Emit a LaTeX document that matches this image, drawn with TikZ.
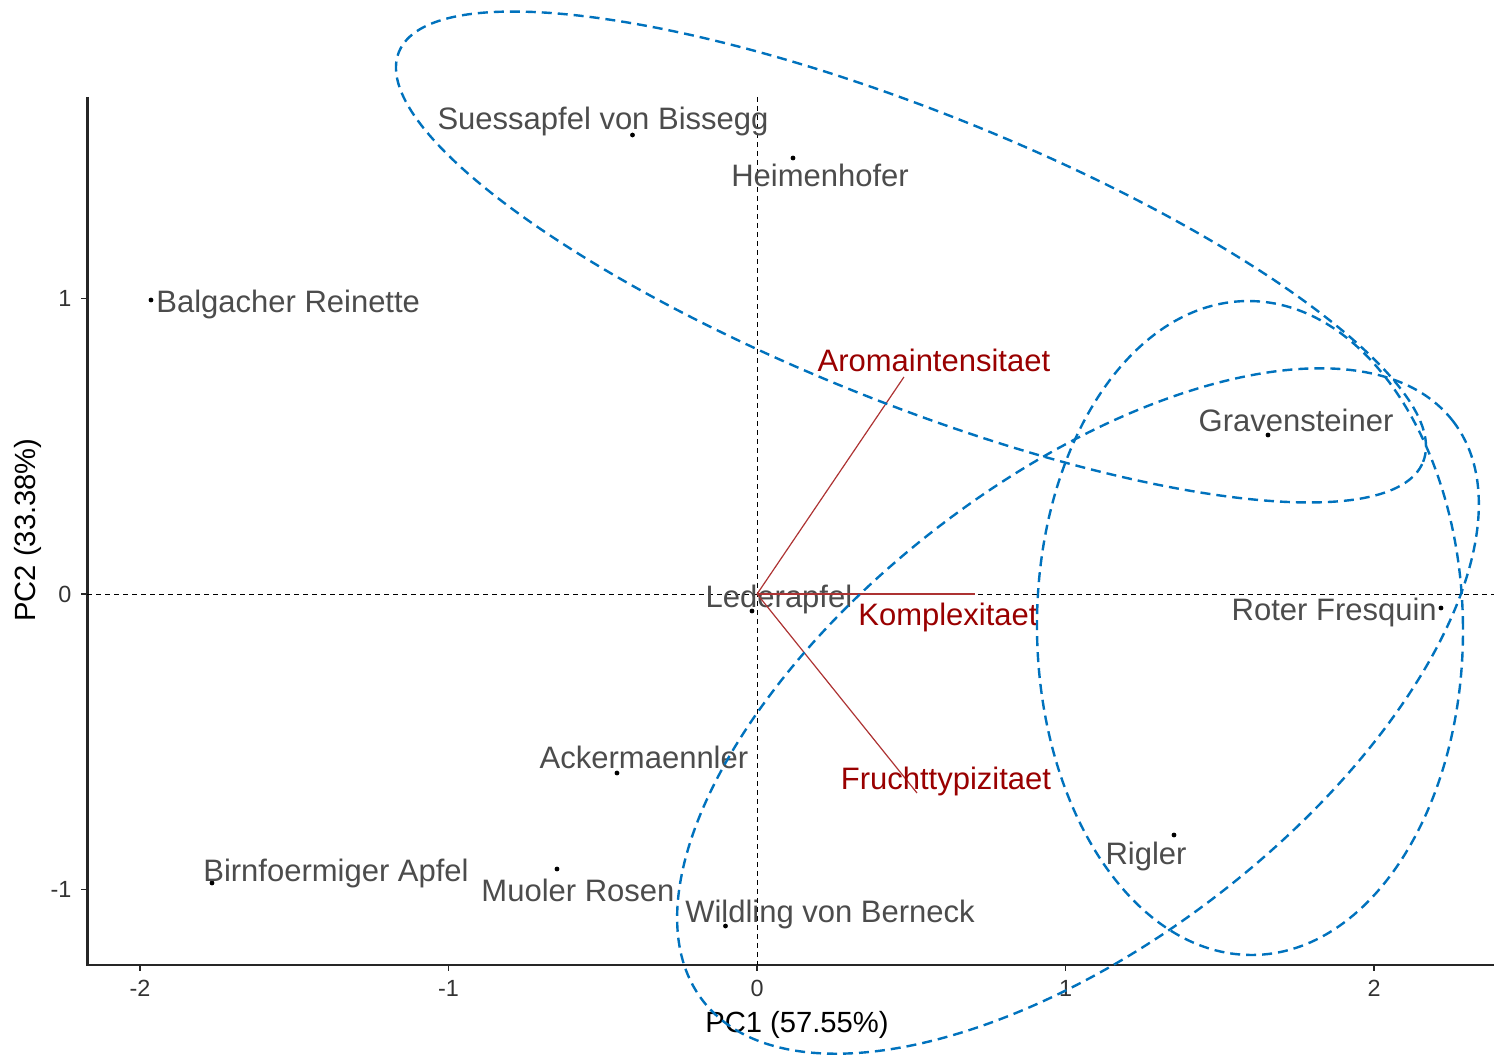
\documentclass[tikz,border=0pt]{standalone}
\usepackage{fontspec}
\setmainfont{Liberation Sans}
\definecolor{ellblue}{HTML}{0072BD}
\definecolor{varred}{HTML}{990000}

\begin{document}
\begin{tikzpicture}[x=154.275pt,y=147.675pt,
  sample node/.style={circle,fill=black,inner sep=0pt,minimum size=2.4pt},
  sample label/.style={text=black!70,inner sep=0pt,font=\fontsize{15.5}{18}\selectfont},
  var label/.style={text=varred,inner sep=0pt,font=\fontsize{15.5}{18}\selectfont},
  var line/.style={varred!80,line width=0.6pt},
  axis line/.style={black!85,line width=1.2pt},
  tick label/.style={black!80,inner sep=0pt,font=\fontsize{11.7}{14}\selectfont},
  axis title/.style={black,inner sep=0pt,font=\fontsize{14.6}{17}\selectfont},
  zero line/.style={black,line width=0.45pt,dash pattern=on 2.5pt off 2pt},
  group ellipse/.style={ellblue,line width=1.2pt,dash pattern=on 5pt off 3pt}]
  \useasboundingbox (-2.4537,-1.5643) rectangle (2.3883,2.0112);

  % axes
  \coordinate (ytop) at (-2.1702,1.6828);
  \coordinate (corner) at (-2.1702,-1.2561);
  \coordinate (xend) at (2.3883,-1.2561);
  \draw[axis line] (ytop) -- (corner) -- (xend);
  \foreach \x in {-2,-1,0,1,2}
    \draw[black!85,line width=0.7pt] (\x,-1.2561) -- ++(0,-3.2pt) node[below=4pt,tick label] {\x};
  \foreach \y in {-1,0,1}
    \draw[black!85,line width=0.7pt] (-2.1702,\y) -- ++(-3.2pt,0) node[left=4.5pt,tick label] {\y};
  \node[axis title] (xtitle) at (0.1293,-1.4580) {PC1 (57.55\%)};
  \node[axis title,rotate=90] (ytitle) at (-2.3628,0.2167) {PC2 (33.38\%)};

  % zero lines
  \coordinate (hl) at (-2.1702,0);
  \coordinate (hr) at (2.3883,0);
  \coordinate (vt) at (0,1.6828);
  \coordinate (vb) at (0,-1.2561);
  \draw[zero line] (hl) -- (hr);
  \draw[zero line] (vt) -- (vb);

  % cultivars
  \node[sample node] (1) at (-0.4038,1.5541) {};
  \node[sample node] (2) at (0.1164,1.4762) {};
  \node[sample node] (3) at (-1.9644,0.9954) {};
  \node[sample node] (4) at (1.6558,0.5383) {};
  \node[sample node] (5) at (2.2165,-0.0474) {};
  \node[sample node] (6) at (-0.0165,-0.0576) {};
  \node[sample node] (7) at (-0.4541,-0.6061) {};
  \node[sample node] (8) at (1.3512,-0.8160) {};
  \node[sample node] (9) at (-1.7666,-0.9785) {};
  \node[sample node] (10) at (-0.6485,-0.9311) {};
  \node[sample node] (11) at (-0.1024,-1.1241) {};

  \node[sample label] (t1) at (-0.4994,1.6015) {Suessapfel von Bissegg};
  \node[sample label] (t2) at (0.2039,1.4187) {Heimenhofer};
  \node[sample label,anchor=west] (t3) at (-1.9482,0.9819) {Balgacher Reinette};
  \node[sample label] (t4) at (1.7466,0.5891) {Gravensteiner};
  \node[sample label] (t5) at (1.8705,-0.0610) {Roter Fresquin};
  \node[sample label] (t6) at (0.0710,-0.0169) {Lederapfel};
  \node[sample label] (t7) at (-0.3666,-0.5519) {Ackermaennler};
  \node[sample label] (t8) at (1.2604,-0.8871) {Rigler};
  \node[sample label] (t9) at (-1.3647,-0.9447) {Birnfoermiger Apfel};
  \node[sample label] (t10) at (-0.5805,-1.0022) {Muoler Rosen};
  \node[sample label] (t11) at (0.2364,-1.0835) {Wildling von Berneck};

  % variables
  \coordinate (O) at (0,0);
  \coordinate (aroma) at (0.4759,0.7347);
  \coordinate (komplex) at (0.7062,0);
  \coordinate (frucht) at (0.5183,-0.6738);
  \draw[var line] (O) -- (aroma);
  \draw[var line] (O) -- (komplex);
  \draw[var line] (O) -- (frucht);
  \node[var label] (va) at (0.5730,0.7923) {Aromaintensitaet};
  \node[var label] (vk) at (0.6187,-0.0778) {Komplexitaet};
  \node[var label] (vf) at (0.6122,-0.6332) {Fruchttypizitaet};

  % groups
  \begin{scope}[x=0.5pt,y=0.5pt]
    \draw[group ellipse,rotate around={-21.8:(153.9,337)}] (153.9,337) ellipse (551.6 and 145.6);
    \draw[group ellipse,rotate around={0.5:(492.9,-34)}] (492.9,-34) ellipse (213 and 327);
    \draw[group ellipse,rotate around={37.7:(320.9,-117)}] (320.9,-117) ellipse (474 and 231);
  \end{scope}
\end{tikzpicture}
\end{document}
